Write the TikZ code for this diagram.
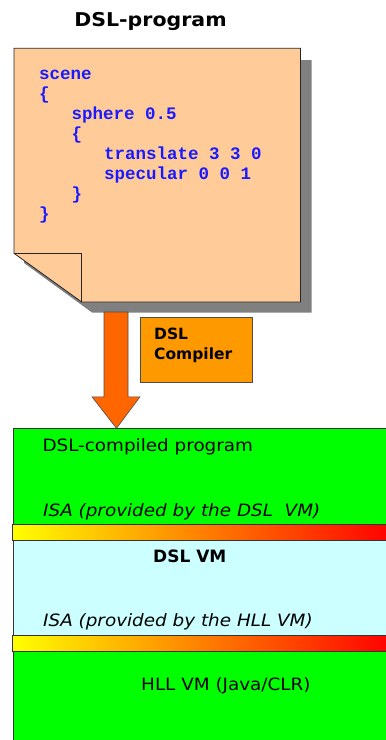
\documentclass[tikz,border=0pt]{standalone}
\usepackage{fontspec}
\setmainfont{DejaVu Sans}
\newfontfamily\widefont[FakeStretch=1.08]{DejaVu Sans}
\newfontfamily\codefont{Liberation Mono}
\usetikzlibrary{fit,calc}
\begin{document}
\begin{tikzpicture}[x=1pt,y=-1pt,
  outline/.style={draw=black!85, line width=0.8pt},
  notepaper/.style={outline, fill=notefill},
  codeline/.style={anchor=base west, inner sep=0pt, text=codeblue,
    font=\codefont\bfseries\fontsize{17.5}{20}\selectfont},
  label/.style={anchor=base west, inner sep=0pt, font=\widefont\fontsize{17}{20}\selectfont},
  italiclabel/.style={label, font=\widefont\fontsize{17}{20}\selectfont\itshape},
  boldlabel/.style={anchor=base west, inner sep=0pt, font=\bfseries\fontsize{15.5}{20}\selectfont},
  layer/.style={outline, draw=black!80},
  isabar/.style={outline, draw=black!80, left color=yellow, right color=red, middle color=orange}
]
\definecolor{notefill}{HTML}{FFCC99}
\definecolor{codeblue}{HTML}{1A1AFF}
\definecolor{compilerfill}{HTML}{FF9900}
\definecolor{arrowfill}{HTML}{FF6600}
\definecolor{vmgreen}{HTML}{00FF00}
\definecolor{vmcyan}{HTML}{CCFFFF}
\definecolor{shadowgray}{HTML}{808080}

\useasboundingbox (0,0) rectangle (386,740);

% title
\node[anchor=base, inner sep=0pt, font=\widefont\bfseries\fontsize{19}{22}\selectfont] (title) at (150.5,26.7) {DSL-program};

% drop shadow of the note
\fill[shadowgray] (24,60) -- (311.5,60) -- (311.5,312.5) -- (92,312.5) -- (24,263) -- cycle;

% the note with its folded corner
\coordinate (noteTL) at (14,48.3);
\coordinate (noteTR) at (300.5,48.3);
\coordinate (noteBR) at (300.5,302);
\coordinate (foldB) at (81.7,302);
\coordinate (foldL) at (14,253.3);
\coordinate (foldC) at (81.7,253.3);
\path[notepaper] (noteTL) -- (noteTR) -- (noteBR) -- (foldB) -- (foldL) -- cycle;
\draw[outline] (foldL) -- (foldC) -- (foldB);
\node[inner sep=0pt, fit={(noteTL)(noteBR)}] (note) {};

% program text
\node[codeline] (c1) at (39,79.3) {scene};
\node[codeline] (c2) at (39,99.3) {\{};
\node[codeline] (c3) at (71.5,119.3) {sphere 0.5};
\node[codeline] (c4) at (71.5,139.3) {\{};
\node[codeline] (c5) at (104,159.3) {translate 3 3 0};
\node[codeline] (c6) at (104,179.3) {specular 0 0 1};
\node[codeline] (c7) at (71.5,199.3) {\}};
\node[codeline] (c8) at (39,219.3) {\}};

% compiler box
\node[outline, draw=black!70, fill=compilerfill, minimum width=112pt, minimum height=65pt,
      anchor=north west, inner sep=0pt] (compiler) at (140,317) {};
\node[boldlabel] (compl1) at (154,339.5) {DSL};
\node[boldlabel] (compl2) at (154,359.5) {Compiler};

% layered stack
\node[layer, fill=vmgreen, anchor=north west, minimum width=380pt, minimum height=95.7pt, inner sep=0pt] (dslprog) at (12.7,428.3) {};
\shade[isabar] (12.7,524) rectangle (392,540);
\node[layer, fill=vmcyan, anchor=north west, minimum width=380pt, minimum height=95pt, inner sep=0pt] (dslvm) at (12.7,540) {};
\shade[isabar] (12.7,635) rectangle (392,651);
\node[layer, fill=vmgreen, anchor=north west, minimum width=380pt, minimum height=100pt, inner sep=0pt] (hllvm) at (12.7,651) {};

% compile arrow from the note down to the stack
\coordinate (arrowTop) at (116,312);
\coordinate (arrowTip) at (116.5,428.3);
\path[outline, draw=black!70, line width=0.6pt, fill=arrowfill, line join=miter]
  ($(arrowTop)+(-12,0)$) -- ($(arrowTop)+(12,0)$) -- ($(arrowTip)+(11.5,-31.5)$)
  -- ($(arrowTip)+(23.5,-31.5)$) -- (arrowTip) -- ($(arrowTip)+(-24.5,-31.5)$)
  -- ($(arrowTip)+(-12.5,-31.5)$) -- cycle;

% layer texts
\node[label] (t1) at (42.3,451.7) {DSL-compiled program};
\node[italiclabel] (t2) at (43,516) {ISA (provided by the DSL\ \ VM)};
\node[anchor=base west, inner sep=0pt, font=\bfseries\fontsize{17}{20}\selectfont] (t3) at (153,562.7) {DSL VM};
\node[italiclabel] (t4) at (43,626.7) {ISA (provided by the HLL VM)};
\node[label] (t5) at (141,690) {HLL VM (Java/CLR)};
\end{tikzpicture}
\end{document}
